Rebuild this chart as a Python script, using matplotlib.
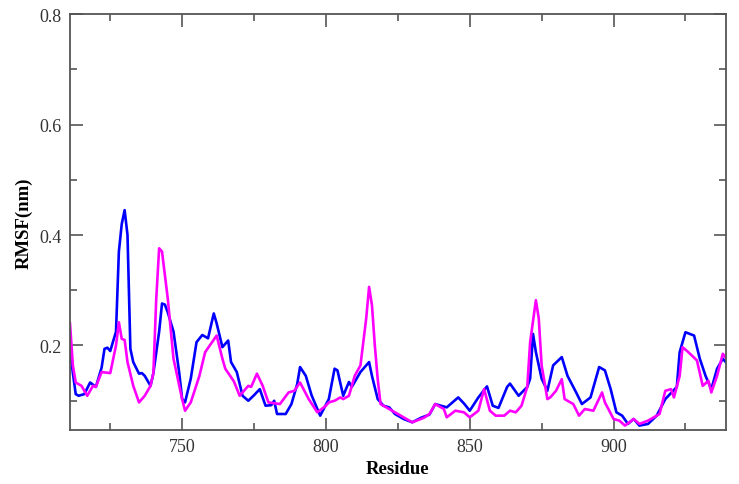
import matplotlib.pyplot as plt
from matplotlib.ticker import MultipleLocator

# blue trace (residue, rmsf in nm)
res_blue = [711, 712, 713, 714, 716, 718, 720, 722, 723, 724, 725, 727, 728, 729, 730, 731,
            732, 733, 735, 736, 737, 739, 740, 742, 743, 744, 745, 747, 749, 750, 751, 753,
            755, 757, 759, 761, 762, 764, 766, 767, 769, 771, 773, 775, 777, 779, 781, 782,
            783, 786, 788, 790, 791, 793, 795, 798, 801, 803, 804, 806, 808, 809, 812, 815,
            816, 818, 820, 822, 824, 827, 830, 833, 836, 838, 842, 846, 848, 850, 853, 856,
            858, 860, 863, 864, 867, 870, 871, 872, 873, 875, 877, 879, 882, 884, 887, 889,
            892, 895, 897, 899, 901, 903, 905, 907, 909, 912, 915, 918, 922, 923, 925, 928,
            930, 932, 934, 936, 938, 939]
rmsf_blue = [0.194, 0.150, 0.112, 0.109, 0.112, 0.133, 0.125, 0.160, 0.194, 0.196, 0.190, 0.225,
             0.370, 0.420, 0.445, 0.400, 0.194, 0.170, 0.149, 0.150, 0.145, 0.127, 0.150, 0.225,
             0.276, 0.274, 0.260, 0.225, 0.150, 0.103, 0.097, 0.140, 0.206, 0.219, 0.213, 0.258,
             0.240, 0.197, 0.209, 0.170, 0.152, 0.109, 0.100, 0.110, 0.121, 0.091, 0.092, 0.100,
             0.076, 0.076, 0.094, 0.130, 0.161, 0.145, 0.110, 0.073, 0.103, 0.158, 0.155, 0.109,
             0.134, 0.125, 0.152, 0.170, 0.145, 0.103, 0.091, 0.088, 0.076, 0.067, 0.061, 0.069,
             0.075, 0.094, 0.088, 0.106, 0.095, 0.082, 0.106, 0.126, 0.091, 0.087, 0.125, 0.131,
             0.109, 0.125, 0.140, 0.221, 0.188, 0.140, 0.118, 0.164, 0.179, 0.145, 0.115, 0.094,
             0.106, 0.161, 0.155, 0.121, 0.079, 0.073, 0.058, 0.067, 0.055, 0.058, 0.073, 0.103,
             0.125, 0.188, 0.224, 0.218, 0.176, 0.145, 0.121, 0.158, 0.176, 0.170]

# magenta trace
res_mag = [711, 712, 713, 715, 717, 719, 720, 722, 725, 726, 727, 728, 729, 730, 731, 733,
           735, 737, 739, 740, 741, 742, 743, 745, 747, 750, 751, 753, 756, 758, 762, 764,
           765, 768, 770, 773, 774, 776, 778, 780, 784, 787, 789, 791, 794, 797, 800, 801,
           803, 805, 806, 808, 810, 812, 814, 815, 816, 817, 818, 819, 822, 826, 830, 834,
           836, 838, 841, 842, 845, 848, 850, 853, 855, 857, 859, 862, 864, 866, 868, 870,
           871, 873, 874, 875, 877, 878, 880, 882, 883, 886, 888, 890, 893, 896, 897, 900,
           902, 904, 907, 909, 912, 916, 918, 920, 921, 923, 924, 926, 929, 931, 933, 934,
           936, 938, 939]
rmsf_mag = [0.240, 0.164, 0.133, 0.127, 0.109, 0.127, 0.125, 0.152, 0.150, 0.175, 0.200, 0.242,
            0.212, 0.210, 0.170, 0.127, 0.097, 0.109, 0.127, 0.150, 0.285, 0.376, 0.370, 0.285,
            0.176, 0.103, 0.082, 0.097, 0.145, 0.188, 0.218, 0.176, 0.158, 0.135, 0.109, 0.127,
            0.125, 0.149, 0.127, 0.097, 0.094, 0.115, 0.118, 0.133, 0.103, 0.079, 0.091, 0.097,
            0.100, 0.106, 0.103, 0.109, 0.145, 0.164, 0.249, 0.306, 0.273, 0.200, 0.139, 0.094,
            0.085, 0.073, 0.061, 0.069, 0.076, 0.094, 0.085, 0.070, 0.082, 0.079, 0.070, 0.082,
            0.121, 0.082, 0.073, 0.073, 0.082, 0.079, 0.091, 0.125, 0.206, 0.282, 0.249, 0.164,
            0.103, 0.106, 0.118, 0.139, 0.103, 0.094, 0.073, 0.085, 0.082, 0.115, 0.097, 0.067,
            0.064, 0.055, 0.067, 0.058, 0.064, 0.076, 0.118, 0.121, 0.106, 0.145, 0.197, 0.188,
            0.173, 0.127, 0.136, 0.115, 0.145, 0.185, 0.178]

plt.rcParams['font.family'] = ['Liberation Serif', 'DejaVu Serif']

fig = plt.figure(figsize=(7.39, 4.85), dpi=100)
ax = fig.add_axes([0.0947, 0.1113, 0.8873, 0.8577])

ax.plot(res_blue, rmsf_blue, color='#0000ff', lw=1.9)
ax.plot(res_mag, rmsf_mag, color='#ff00ff', lw=1.9)

ax.set_xlim(711, 939)
ax.set_ylim(0.047, 0.8)
ax.xaxis.set_major_locator(MultipleLocator(50))
ax.xaxis.set_minor_locator(MultipleLocator(25))
ax.yaxis.set_major_locator(MultipleLocator(0.2))
ax.yaxis.set_minor_locator(MultipleLocator(0.1))
ax.yaxis.set_major_formatter(plt.FuncFormatter(lambda v, p: '%.1f' % v))

for s in ax.spines.values():
    s.set_color('#555555')
    s.set_linewidth(1.3)

ax.tick_params(which='both', direction='in', top=True, right=True, colors='#555555',
               labelcolor='#333333', labelsize=13, width=1.2)
ax.tick_params(which='major', length=9, pad=6)
ax.tick_params(which='minor', length=5)

ax.set_xlabel('Residue', fontsize=13.5, fontweight='bold', labelpad=3)
ax.set_ylabel('RMSF(nm)', fontsize=13.5, fontweight='bold', labelpad=5)

fig.savefig('out.png', dpi=100)
